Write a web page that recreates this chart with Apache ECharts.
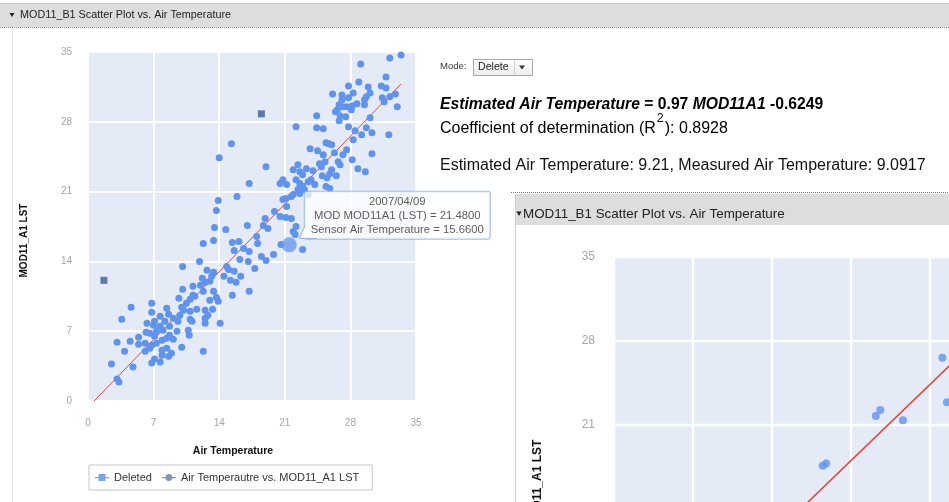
<!DOCTYPE html>
<html><head><meta charset="utf-8">
<script src="https://cdn.jsdelivr.net/npm/echarts@6/dist/echarts.min.js"></script>
<style>html,body{margin:0;padding:0;background:#fff;overflow:hidden}#c{width:949px;height:502px}</style>
</head><body><div id="c"></div>
<script>
const FONT = 'Arial, "Liberation Sans", Helvetica, sans-serif';

// ---- data ----
const axisMin = 0, axisMax = 35, axisStep = 7;
const seriesNames = ['Deleted', 'Air Temperautre vs. MOD11_A1 LST'];
const deletedPoints = [[1.7, 12.1], [18.5, 28.8]];
const mainPoints = [
 [12.5,11.9],[13.0,12.0],[12.0,11.6],[10.1,11.2],[11.2,11.5],[13.4,11.0],[12.3,11.0],[11.4,10.5],[10.9,10.2],[11.2,10.6],
 [9.7,10.3],[10.5,9.8],[10.0,9.4],[10.9,9.0],[11.6,9.2],[12.5,9.1],[13.0,10.1],[13.7,10.4],[13.9,10.0],[13.3,9.2],
 [12.8,8.6],[12.5,8.3],[4.6,9.4],[6.8,9.8],[3.6,8.2],[6.8,8.9],[7.7,8.5],[8.4,9.3],[8.6,8.7],[8.2,8.0],
 [7.1,8.0],[6.3,7.8],[7.0,7.6],[7.7,7.5],[9.1,8.3],[9.6,8.0],[9.8,8.6],[10.2,9.1],[10.9,8.2],[11.1,8.0],
 [14.1,7.8],[12.5,7.8],[6.2,6.9],[5.4,6.4],[6.6,6.8],[7.3,7.0],[8.0,7.1],[8.7,7.5],[9.5,7.0],[8.7,6.6],
 [7.9,6.1],[8.4,6.3],[9.1,6.2],[7.3,5.8],[6.8,5.6],[7.1,6.5],[6.1,5.8],[5.4,5.7],[3.1,5.9],[4.5,6.0],
 [10.7,7.1],[10.8,6.6],[10.0,5.4],[12.3,5.0],[3.9,5.0],[6.1,5.0],[6.6,5.3],[7.9,5.1],[8.4,5.3],[8.9,4.8],
 [8.6,4.5],[7.9,4.6],[7.1,4.2],[6.8,3.8],[7.7,3.9],[4.8,3.4],[2.5,3.7],[3.1,2.2],[3.3,1.9],
 [17.2,21.8],[13.9,20.1],[15.9,20.5],[13.7,19.1],[13.5,17.4],[14.7,17.2],[17.0,17.6],[12.3,15.8],[13.4,16.1],[15.4,15.9],
 [16.1,16.0],[15.6,15.1],[16.6,15.3],[17.2,15.0],[16.2,14.2],[17.1,14.0],[18.1,15.8],[20.6,15.7],[22.9,15.2],[18.5,14.5],
 [19.0,14.1],[17.8,13.3],[19.8,14.7],[11.9,14.0],[10.1,13.5],[14.8,13.5],[15.0,13.2],[15.6,13.0],[16.3,12.5],[15.2,12.1],
 [15.8,11.9],[14.5,12.5],[13.4,12.9],[12.7,13.1],[13.2,12.5],[12.2,12.3],[15.4,10.6],[17.2,11.0],[15.3,25.8],[14.0,24.4],
 [22.2,27.5],[28.2,24.2],[28.8,23.3],[29.6,23.0],[19.0,23.5],[22.4,23.7],[23.3,23.3],[22.6,23.0],[21.9,23.2],[22.9,22.7],
 [24.0,23.1],[24.7,23.8],[25.3,24.0],[24.9,23.5],[25.0,22.6],[25.5,22.4],[25.8,22.8],[26.5,22.6],[26.0,23.2],[26.7,24.0],
 [26.9,23.7],[20.8,22.2],[20.5,21.8],[21.2,21.7],[22.2,22.2],[22.6,21.8],[22.9,21.5],[23.5,22.0],[23.8,22.2],[24.2,21.7],
 [25.4,21.5],[25.8,21.3],[20.8,20.2],[21.1,20.3],[21.2,19.5],[21.7,20.5],[21.9,20.7],[22.4,21.2],[22.6,20.8],[23.1,21.2],
 [23.5,20.7],[19.9,19.0],[20.5,18.5],[21.1,18.4],[21.7,18.3],[18.9,18.3],[19.2,17.3],[18.7,17.6],[18.0,16.5],[21.9,17.0],
 [22.2,17.5],[22.1,16.7],
 [33.4,34.7],[32.2,34.4],[29.1,33.8],[31.8,32.5],[28.9,32.0],[27.8,31.6],[29.9,31.5],[31.3,31.6],[31.8,31.4],[26.1,30.8],
 [27.1,30.7],[28.3,30.9],[27.8,30.4],[27.1,30.2],[29.7,30.5],[30.1,30.9],[29.5,30.2],[31.4,30.4],[32.2,30.5],[32.8,30.8],
 [31.6,30.0],[33.0,29.5],[26.8,29.7],[27.2,29.5],[26.6,29.2],[26.4,29.0],[27.6,29.5],[28.2,29.6],[28.7,29.8],[28.1,29.2],
 [29.5,29.7],[26.9,28.6],[27.5,28.5],[26.8,28.1],[24.4,28.6],[30.1,28.4],[24.4,27.4],[25.1,27.3],[27.8,27.5],[28.5,27.1],
 [29.2,26.7],[29.7,27.4],[30.3,26.9],[32.1,26.7],[28.3,26.2],[25.4,25.9],[25.7,25.8],[26.0,25.7],[23.7,25.3],[24.5,25.1],
 [25.1,24.7],[26.3,24.9],[27.6,25.2],[27.2,24.7],[30.3,24.8]
];
const selectedPoint = [21.48, 15.66];
const selectedDate = '2007/04/09';
const fitLine = [[0.65, 0], [33.4, 31.8]];
const panel2Points = [[18.5,17.6],[18.8,17.8],[23.2,21.75],[23.6,22.25],[25.6,21.4],[29.1,26.6],[29.5,22.9]];
const panel2Line = [[16, 13.5], [31, 27.1]];
const headerTitle = 'MOD11_B1 Scatter Plot vs. Air Temperature';
const xName = 'Air Temperature', yName = 'MOD11_A1 LST';

// ---- styles ----
const BLUE = '#6094ec', NAVY = '#3b5c9c', RED = '#e4483c', BG = '#e4eaf6';
const ICON_SQ = 'path://M0,3h14v1.3h-14z M3.5,0h7v7h-7z';
const ICON_CI = 'path://M0,3h14v1.3h-14z M7,0A3.5,3.5 0 1 1 6.99,0z';

function axis(gridIndex, o) {
  return Object.assign({
    gridIndex, type: 'value', min: axisMin, max: axisMax, interval: axisStep,
    axisLine: {show: false}, axisTick: {show: false},
    splitLine: {show: true, lineStyle: {color: '#fff', width: gridIndex ? 2.4 : 2}},
  }, o);
}

const chart = echarts.init(document.getElementById('c'), null, {renderer: 'canvas'});
const option = {
  animation: false,
  grid: [
    {left: 88, top: 52, width: 328, height: 349, show: true, backgroundColor: BG, borderWidth: 0, outerBoundsMode: 'none', containLabel: false},
    {left: 614, top: 257, width: 395, height: 420, show: true, backgroundColor: BG, borderWidth: 0, outerBoundsMode: 'none', containLabel: false}
  ],
  xAxis: [
    axis(0, {axisLabel: {color: '#a5a5a5', fontSize: 10, margin: 17, fontFamily: FONT},
      name: xName, nameLocation: 'middle', nameGap: 45,
      nameTextStyle: {fontWeight: 'bold', fontSize: 10.5, color: '#111', fontFamily: FONT, padding: [0, 38, 0, 0]}}),
    axis(1, {axisLabel: {color: '#a5a5a5', fontSize: 12, margin: 20, fontFamily: FONT}})
  ],
  yAxis: [
    axis(0, {axisLabel: {color: '#a5a5a5', fontSize: 10, margin: 16, fontFamily: FONT},
      name: yName, nameLocation: 'middle', nameGap: 59,
      nameTextStyle: {fontWeight: 'bold', fontSize: 10, color: '#111', fontFamily: FONT, padding: [0, 28, 0, 0]}}),
    axis(1, {axisLabel: {color: '#a5a5a5', fontSize: 12, margin: 19, fontFamily: FONT},
      name: yName, nameLocation: 'middle', nameGap: 70,
      nameTextStyle: {fontWeight: 'bold', fontSize: 12, color: '#111', fontFamily: FONT, padding: [0, 34, 0, 0]}})
  ],
  legend: {
    left: 89, top: 465, backgroundColor: '#fff', borderColor: '#c6c6c6', borderWidth: 1,
    padding: [7, 13, 7, 6], itemGap: 10, itemWidth: 14, itemHeight: 7, selectedMode: false,
    textStyle: {fontSize: 11, color: '#333', fontFamily: FONT},
    data: [
      {name: seriesNames[0], icon: ICON_SQ, itemStyle: {color: '#5d8fe0'}},
      {name: seriesNames[1], icon: ICON_CI, itemStyle: {color: '#8496b6'}}
    ]
  },
  series: [
    {type: 'line', name: 'fit', data: fitLine, xAxisIndex: 0, yAxisIndex: 0, symbol: 'none', z: 1,
      lineStyle: {color: RED, width: 1}, silent: true},
    {type: 'scatter', name: seriesNames[0], data: deletedPoints, symbol: 'rect', symbolSize: 7,
      itemStyle: {color: NAVY}, z: 3},
    {type: 'scatter', name: seriesNames[1], data: mainPoints, symbolSize: 7, itemStyle: {color: BLUE, opacity: 1}, z: 2},
    {type: 'scatter', name: 'selected', data: [selectedPoint], symbolSize: 15, itemStyle: {color: '#6a9af0'}, z: 4,
      label: {
        show: true, position: [115.5, -45.5], align: 'center', verticalAlign: 'top',
        formatter: () => [selectedDate,
          'MOD MOD11A1 (LST) = ' + selectedPoint[0].toFixed(4),
          'Sensor Air Temperature = ' + selectedPoint[1].toFixed(4)].join('\n'),
        fontSize: 11.3, lineHeight: 14, color: '#333', fontFamily: FONT,
        backgroundColor: 'rgba(255,255,255,0.93)', borderColor: '#8eb1e0', borderWidth: 1, borderRadius: 2,
        padding: [3, 6, 2, 6]
      }},
    {type: 'line', name: 'fit2', data: panel2Line, xAxisIndex: 1, yAxisIndex: 1, symbol: 'none', z: 1,
      lineStyle: {color: RED, width: 1.6}, silent: true},
    {type: 'scatter', name: 'p2', data: panel2Points, xAxisIndex: 1, yAxisIndex: 1, symbolSize: 8,
      itemStyle: {color: BLUE}, z: 2}
  ],
  graphic: []
};
chart.setOption(option);

const p = chart.convertToPixel({gridIndex: 0}, selectedPoint);
const bx = p[0] + 15.5, by = p[1] - 6.5;
const g = [
  // panel 1 header
  {type: 'rect', shape: {x: 0, y: 3, width: 949, height: 24}, style: {fill: '#dddddd'}},
  {type: 'line', shape: {x1: 0, y1: 3.5, x2: 949, y2: 3.5}, style: {stroke: '#c9c9c9', lineWidth: 1}},
  {type: 'line', shape: {x1: 0, y1: 27.5, x2: 949, y2: 27.5}, style: {stroke: '#888', lineWidth: 1, lineDash: [1, 1]}},
  {type: 'polygon', shape: {points: [[9.5, 13], [14.5, 13], [12, 17]]}, style: {fill: '#222'}},
  {type: 'text', x: 20, y: 15.5, style: {text: headerTitle, fontSize: 10.8, fontFamily: FONT, fill: '#222', verticalAlign: 'middle'}},
  {type: 'line', shape: {x1: 12.5, y1: 28, x2: 12.5, y2: 502}, style: {stroke: '#e6e6e6', lineWidth: 1}},
  // mode selector
  {type: 'text', x: 440, y: 66, style: {text: 'Mode:', fontSize: 9.5, fontFamily: FONT, fill: '#333', verticalAlign: 'middle'}},
  {type: 'rect', shape: {x: 473.5, y: 59.5, width: 59, height: 16},
    style: {fill: new echarts.graphic.LinearGradient(0, 0, 0, 1, [{offset: 0, color: '#ffffff'}, {offset: 1, color: '#ececec'}]), stroke: '#a9a9a9'}},
  {type: 'text', x: 478, y: 67.5, style: {text: 'Delete', fontSize: 10.6, fontFamily: FONT, fill: '#222', verticalAlign: 'middle'}},
  {type: 'line', shape: {x1: 514.5, y1: 60, x2: 514.5, y2: 75}, style: {stroke: '#cfcfcf'}},
  {type: 'polygon', shape: {points: [[519, 65.5], [525, 65.5], [522, 69.5]]}, style: {fill: '#333'}},
  // formula texts
  {type: 'text', x: 440, y: 105, style: {
    text: '{bi|Estimated Air Temperature}{b| = 0.97 }{bi|MOD11A1}{b| -0.6249}', verticalAlign: 'middle',
    rich: {bi: {fontSize: 15.7, fontWeight: 'bold', fontStyle: 'italic', fontFamily: FONT, color: '#111'},
           b: {fontSize: 15.7, fontWeight: 'bold', fontFamily: FONT, color: '#111'}}}},
  {type: 'text', x: 440, y: 128.5, style: {
    text: '{n|Coefficient of determination (R}{s|2}{n|): 0.8928}', verticalAlign: 'middle',
    rich: {n: {fontSize: 16, fontFamily: FONT, color: '#111', lineHeight: 32},
           s: {fontSize: 12.5, fontFamily: FONT, color: '#111', lineHeight: 12, verticalAlign: 'top', padding: [0, 1, 0, 1]}}}},
  {type: 'text', x: 440, y: 165.5, style: {text: 'Estimated Air Temperature: 9.21, Measured Air Temperature: 9.0917',
    fontSize: 16, fontFamily: FONT, fill: '#111', verticalAlign: 'middle'}},
  // panel 2 header
  {type: 'line', shape: {x1: 511, y1: 192.5, x2: 949, y2: 192.5}, style: {stroke: '#777', lineWidth: 1, lineDash: [1, 1]}},
  {type: 'rect', shape: {x: 515, y: 194, width: 434, height: 31}, style: {fill: '#dddddd'}},
  {type: 'polygon', shape: {points: [[516.5, 211.5], [521.5, 211.5], [519, 216]]}, style: {fill: '#222'}},
  {type: 'text', x: 523, y: 214, style: {text: headerTitle, fontSize: 13.4, fontFamily: FONT, fill: '#222', verticalAlign: 'middle'}},
  {type: 'line', shape: {x1: 515.5, y1: 194, x2: 515.5, y2: 502}, style: {stroke: '#cfcfcf', lineWidth: 1}},
  // tooltip pointer
  {type: 'polygon', z: 100, shape: {points: [[bx, by - 12], [bx - 5.5, by], [bx + 12, by]]}, style: {fill: '#fff'}},
  {type: 'polyline', z: 101, shape: {points: [[bx, by - 12], [bx - 5.5, by], [bx + 12, by]]}, style: {stroke: '#8eb1e0', lineWidth: 1, fill: null}}
];
chart.setOption({graphic: g});
</script></body></html>
